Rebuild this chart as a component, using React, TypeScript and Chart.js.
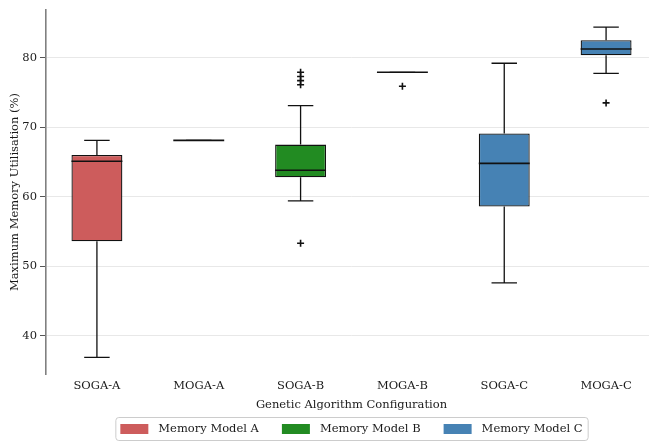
import React, { useEffect, useRef } from 'react';
import Chart from 'chart.js/auto';

const categories = ['SOGA-A', 'MOGA-A', 'SOGA-B', 'MOGA-B', 'SOGA-C', 'MOGA-C'];
const modelNames = ['Memory Model A', 'Memory Model B', 'Memory Model C'];
const modelColors = ['#CD5C5C', '#228B22', '#4682B4'];
const categoryModel = [0, 0, 1, 1, 2, 2];
const whiskerLow = [36.9, 68.1, 59.4, 77.9, 47.6, 77.75];
const q1 = [53.6, 68.1, 62.8, 77.9, 58.6, 80.35];
const median = [65.1, 68.1, 63.8, 77.9, 64.8, 81.25];
const q3 = [66.0, 68.1, 67.5, 77.9, 69.1, 82.5];
const whiskerHigh = [68.1, 68.1, 73.1, 77.9, 79.2, 84.4];
const outliers: number[][] = [[], [], [53.3, 76.1, 76.7, 77.3, 77.9], [75.9], [], [73.5]];

const FONT = "'DejaVu Serif', serif";
const FONT_SIZE = 11.5;
const TEXT = '#1a1a1a';
const EDGE = '#111111';

const boxPlugin = {
  id: 'boxWhiskers',
  afterDatasetsDraw(chart: any) {
    const xs = chart.scales.x;
    const ys = chart.scales.y;
    const ctx = chart.ctx;
    ctx.save();
    ctx.strokeStyle = EDGE;
    categories.forEach((_, i) => {
      const cx = xs.getPixelForValue(i);
      const half = xs.getPixelForValue(i + 0.25) - cx;
      const capHalf = half / 2;
      const yLo = ys.getPixelForValue(whiskerLow[i]);
      const yHi = ys.getPixelForValue(whiskerHigh[i]);
      const yQ1 = ys.getPixelForValue(q1[i]);
      const yQ3 = ys.getPixelForValue(q3[i]);
      const yMed = ys.getPixelForValue(median[i]);
      ctx.lineWidth = 1.3;
      ctx.beginPath();
      ctx.moveTo(cx, yQ1);
      ctx.lineTo(cx, yLo);
      ctx.moveTo(cx, yQ3);
      ctx.lineTo(cx, yHi);
      ctx.moveTo(cx - capHalf, yLo);
      ctx.lineTo(cx + capHalf, yLo);
      ctx.moveTo(cx - capHalf, yHi);
      ctx.lineTo(cx + capHalf, yHi);
      ctx.stroke();
      ctx.lineWidth = 1.6;
      ctx.beginPath();
      ctx.moveTo(cx - half, yMed);
      ctx.lineTo(cx + half, yMed);
      ctx.stroke();
    });
    ctx.restore();
  },
};

const legendPlugin = {
  id: 'boxLegend',
  afterDraw(chart: any) {
    const ctx = chart.ctx;
    const area = chart.chartArea;
    ctx.save();
    ctx.font = `${FONT_SIZE}px ${FONT}`;
    const widths = modelNames.map((n) => ctx.measureText(n).width);
    const pad = 5, patchW = 28, patchH = 10, patchGap = 10, itemGap = 23;
    const total = pad * 2 + widths.reduce((a, w) => a + patchW + patchGap + w, 0) + itemGap * (modelNames.length - 1);
    const cx = (area.left + area.right) / 2;
    const boxH = 23;
    const top = chart.height - boxH - 1;
    const left = cx - total / 2;
    ctx.fillStyle = '#ffffff';
    ctx.strokeStyle = '#cccccc';
    ctx.lineWidth = 1;
    ctx.beginPath();
    ctx.roundRect(left + 0.5, top + 0.5, total, boxH, 3);
    ctx.fill();
    ctx.stroke();
    const midY = top + boxH / 2 + 0.5;
    let x = left + pad;
    ctx.textBaseline = 'middle';
    ctx.textAlign = 'left';
    modelNames.forEach((n, i) => {
      ctx.fillStyle = modelColors[i];
      ctx.fillRect(x, midY - patchH / 2, patchW, patchH);
      x += patchW + patchGap;
      ctx.fillStyle = TEXT;
      ctx.fillText(n, x, midY);
      x += widths[i] + itemGap;
    });
    ctx.restore();
  },
};

export default function App() {
  const ref = useRef<HTMLCanvasElement>(null);
  useEffect(() => {
    if (!ref.current) return;
    Chart.defaults.font.family = FONT;
    Chart.defaults.font.size = FONT_SIZE;
    Chart.defaults.color = TEXT;

    const boxDatasets = modelNames.map((name, m) => ({
      type: 'bar' as const,
      label: name,
      data: categories
        .map((_, i) => ({ x: i, y: [q1[i], q3[i]] }))
        .filter((_, i) => categoryModel[i] === m),
      backgroundColor: modelColors[m],
      borderColor: EDGE,
      borderWidth: 1.3,
      borderSkipped: false as const,
      barPercentage: 0.5,
      categoryPercentage: 1,
      grouped: false,
    }));
    const outlierDataset = {
      type: 'scatter' as const,
      label: 'Outliers',
      data: outliers.flatMap((vals, i) => vals.map((v) => ({ x: i, y: v }))),
      pointStyle: 'cross',
      pointRadius: 3.5,
      borderColor: '#111111',
      backgroundColor: '#111111',
      borderWidth: 1.6,
    };

    const chart = new Chart(ref.current, {
      type: 'bar',
      data: { datasets: [...boxDatasets, outlierDataset] as any },
      options: {
        animation: false,
        responsive: false,
        events: [],
        layout: { padding: { top: 10, bottom: 27, left: 0, right: 46 } },
        plugins: { legend: { display: false }, tooltip: { enabled: false } },
        scales: {
          x: {
            type: 'linear',
            min: -0.5,
            max: 5.5,
            offset: false,
            afterFit: (s: any) => { s.height = 40; },
            afterBuildTicks: (s: any) => { s.ticks = categories.map((_, i) => ({ value: i })); },
            grid: { display: false, drawTicks: false },
            border: { display: false },
            ticks: {
              autoSkip: false,
              maxRotation: 0,
              padding: 5,
              color: TEXT,
              callback: (v: any) => categories[Math.round(v)] ?? '',
            },
            title: { display: true, text: 'Genetic Algorithm Configuration', color: TEXT, padding: { top: 0, bottom: 2 } },
          },
          y: {
            type: 'linear',
            min: 34.5,
            max: 86.86,
            afterFit: (s: any) => { s.width = 46; },
            grid: { color: '#e8e8e8', lineWidth: 1, tickColor: '#555555', tickLength: 6, drawTicks: true },
            border: { display: true, color: '#808080', width: 1.6 },
            ticks: { stepSize: 10, includeBounds: false, padding: 3, color: TEXT },
            title: { display: true, text: 'Maximum Memory Utilisation (%)', color: TEXT, padding: { top: 8, bottom: 0 } },
          },
        },
      },
      plugins: [boxPlugin, legendPlugin],
    } as any);
    return () => chart.destroy();
  }, []);
  return (
    <div style={{ position: 'fixed', left: 0, top: 0, width: 649, height: 441, overflow: 'hidden', background: '#ffffff' }}>
      <canvas ref={ref} width={703} height={441} style={{ display: 'block' }} />
    </div>
  );
}
